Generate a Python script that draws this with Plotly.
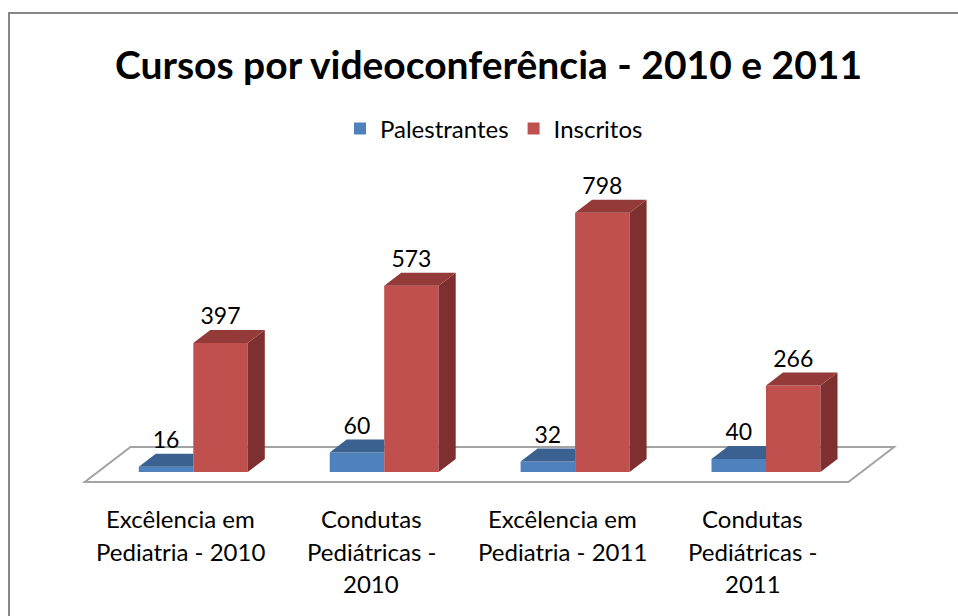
import plotly.graph_objects as go

# ---- data ----
categories = ["Excêlencia em<br>Pediatria - 2010",
              "Condutas<br>Pediátricas -<br>2010",
              "Excêlencia em<br>Pediatria - 2011",
              "Condutas<br>Pediátricas -<br>2011"]
palestrantes = [16, 60, 32, 40]
inscritos = [397, 573, 798, 266]
series_names = ["Palestrantes", "Inscritos"]
title_text = "Cursos por videoconferência - 2010 e 2011"

# ---- styling / geometry ----
W, H = 958, 616
X0, KX = 193.3, 190.9      # pixel of category 0, pixels per category
Y0, KY = 472.0, 0.325      # pixel of value 0, pixels per unit
BW = 54.5 / KX             # bar width (category units)
DX, DY = 17 / KX, 13 / KY  # 3D depth vector (data units)
FONT = "Lato"
blue_front, blue_top = "#4F81BD", "#3B6190"
red_front, red_top, red_side = "#C0504D", "#943A38", "#7D302F"
floor_line = "#A3A3A3"

xr = [-X0 / KX, (W - X0) / KX]
yr = [-(H - Y0) / KY, Y0 / KY]
n = len(categories)
idx = list(range(n))

fig = go.Figure()

# front faces (bars)
fig.add_trace(go.Bar(x=[i - BW / 2 for i in idx], y=palestrantes, width=BW,
                     name=series_names[0], marker=dict(color=blue_front, line=dict(width=0)),
                     hoverinfo="skip"))
fig.add_trace(go.Bar(x=[i + BW / 2 for i in idx], y=inscritos, width=BW,
                     name=series_names[1], marker=dict(color=red_front, line=dict(width=0)),
                     hoverinfo="skip"))

# blue top faces (clipped where the red front face covers them)
bx, by = [], []
for i, v in zip(idx, palestrantes):
    x0, x1 = i - BW, i
    bx += [x0, x1, x1, x0 + DX, x0, None]
    by += [v, v, v + DY, v + DY, v, None]
fig.add_trace(go.Scatter(x=bx, y=by, mode="lines", fill="toself", fillcolor=blue_top,
                         line=dict(width=0, color=blue_top), hoverinfo="skip", showlegend=False))

# red top and side faces
tx, ty, sx, sy = [], [], [], []
for i, v in zip(idx, inscritos):
    x0, x1 = i, i + BW
    tx += [x0, x1, x1 + DX, x0 + DX, x0, None]
    ty += [v, v, v + DY, v + DY, v, None]
    sx += [x1, x1 + DX, x1 + DX, x1, x1, None]
    sy += [0, DY, v + DY, v, 0, None]
fig.add_trace(go.Scatter(x=sx, y=sy, mode="lines", fill="toself", fillcolor=red_side,
                         line=dict(width=0, color=red_side), hoverinfo="skip", showlegend=False))
fig.add_trace(go.Scatter(x=tx, y=ty, mode="lines", fill="toself", fillcolor=red_top,
                         line=dict(width=0, color=red_top), hoverinfo="skip", showlegend=False))

# data labels
for vals, off in ((palestrantes, -BW / 2), (inscritos, BW / 2)):
    fig.add_trace(go.Scatter(x=[i + off for i in idx], y=[v + DY for v in vals],
                             mode="text", text=[str(v) for v in vals],
                             textposition="top center",
                             textfont=dict(family=FONT, size=23, color="black"),
                             hoverinfo="skip", showlegend=False))

# floor (parallelogram under the bars), drawn below the traces
f_front, f_back = -0.77, 1.92
fx0, fx1 = -0.5, n - 0.5
pts = [(fx0 + f_front * DX, f_front * DY), (fx1 + f_front * DX, f_front * DY),
       (fx1 + f_back * DX, f_back * DY), (fx0 + f_back * DX, f_back * DY)]
path = "M " + " L ".join(f"{px},{py}" for px, py in pts) + " Z"
fig.add_shape(type="path", path=path, xref="x", yref="y", layer="below",
              line=dict(color=floor_line, width=2), fillcolor="white")

# category labels (one annotation per line)
line_px = [518, 551, 583]
for i, lab in zip(idx, categories):
    for k, part in enumerate(lab.split("<br>")):
        fig.add_annotation(x=i + f_front * DX, y=1 - line_px[k] / H,
                           xref="x", yref="paper", text=part, showarrow=False,
                           xanchor="center", yanchor="middle",
                           font=dict(family=FONT, size=24, color="black"))

# chart border
fig.add_shape(type="rect", xref="paper", yref="paper",
              x0=9 / W, y0=-0.05, x1=1.05, y1=1 - 13 / H,
              line=dict(color="#878787", width=2), fillcolor="rgba(0,0,0,0)", layer="below")

fig.update_layout(
    width=W, height=H,
    margin=dict(l=0, r=0, t=0, b=0),
    paper_bgcolor="white", plot_bgcolor="white",
    barmode="overlay",
    title=dict(text="<b>" + title_text + "</b>", x=488.5 / W, xanchor="center",
               y=1 - 65 / H, yanchor="middle",
               font=dict(family=FONT, size=39, color="black")),
    legend=dict(orientation="h", x=494 / W, xanchor="center", y=1 - 129 / H, yanchor="middle",
                font=dict(family=FONT, size=24, color="black"), bgcolor="rgba(0,0,0,0)",
                itemclick=False, itemdoubleclick=False),
    xaxis=dict(range=xr, visible=False, fixedrange=True),
    yaxis=dict(range=yr, visible=False, fixedrange=True),
    showlegend=True,
)

fig.write_html("out.html", config={"displayModeBar": False},
               post_script="document.body.style.margin='0';")
